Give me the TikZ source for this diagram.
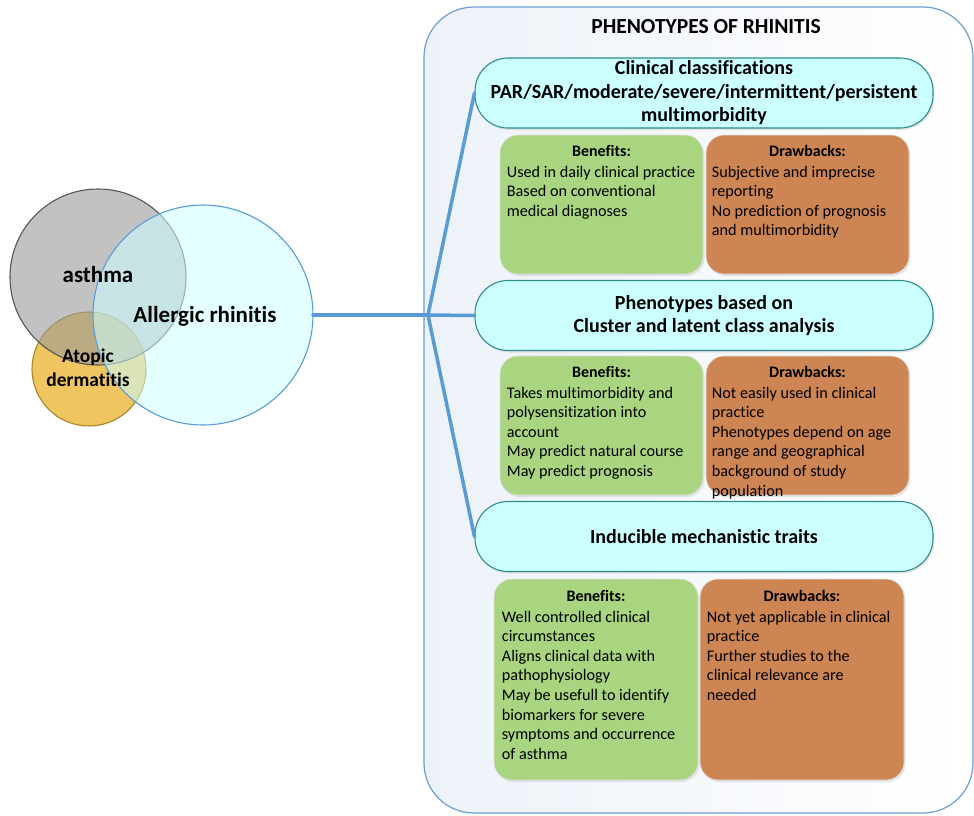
\documentclass[tikz,border=0pt]{standalone}
\usepackage{fontspec}
\setmainfont{Carlito}[Ligatures={NoCommon,NoContextual,NoRare},RawFeature={-liga;-clig;-calt;-dlig}]
\usetikzlibrary{shadows,calc}
\definecolor{conn}{HTML}{5B9BD5}
\definecolor{panelborder}{HTML}{6A9FD4}
\definecolor{panelfill}{HTML}{EDF2F9}
\definecolor{pillfill}{HTML}{CCFFFF}
\definecolor{pillborder}{HTML}{2E8C8C}
\definecolor{benfill}{HTML}{A9D580}
\definecolor{drawfill}{HTML}{CD8553}
\definecolor{asthmafill}{HTML}{9A9A9A}
\definecolor{asthmaborder}{HTML}{555555}
\definecolor{atopfill}{HTML}{EEC55E}
\definecolor{atopborder}{HTML}{A8852A}
\definecolor{arfill}{HTML}{CCFFFF}
\tikzset{
  panelbox/.style={rectangle, rounded corners=50, draw=panelborder, line width=1.2pt,
    left color=panelfill, right color=white, inner sep=0, outer sep=0},
  pill/.style={rectangle, rounded corners=33, draw=pillborder, line width=1.1pt, fill=pillfill,
    minimum width=458, minimum height=70, align=center, inner sep=0,
    font=\bfseries\fontsize{20}{23.5}\selectfont,
    drop shadow={opacity=0.18, shadow xshift=1.5pt, shadow yshift=-2pt}},
  benbox/.style={rectangle, rounded corners=18, fill=benfill, draw=black!12, line width=0.6pt,
    drop shadow={opacity=0.18, shadow xshift=1.5pt, shadow yshift=-2pt}},
  drawbox/.style={rectangle, rounded corners=18, fill=drawfill, draw=black!12, line width=0.6pt,
    drop shadow={opacity=0.18, shadow xshift=1.5pt, shadow yshift=-2pt}},
  boxhead/.style={font=\bfseries\fontsize{16}{19.6}\selectfont, anchor=base, inner sep=0},
  boxbody/.style={font=\fontsize{16.2}{19.6}\selectfont, align=left, anchor=north west, inner sep=0},
  conline/.style={draw=conn, line width=3.5pt, line cap=round, line join=round},
  venn/.style={circle, inner sep=0, outer sep=0, line width=1.1pt},
  vennlabel/.style={font=\bfseries, align=center, inner sep=0}
}
\begin{document}
\begin{tikzpicture}[x=1pt,y=-1pt]
\useasboundingbox (0,0) rectangle (974,815);

% panel
\node[panelbox, minimum width=549, minimum height=806] (panel) at (698.5,410) {};
\node[font=\bfseries\fontsize{21.5}{24}\selectfont, inner sep=0] (title) at (706,27) {PHENOTYPES OF RHINITIS};

% Venn diagram
\node[venn, minimum size=114, fill=atopfill, draw=atopborder] (atop) at (89,369) {};
\node[venn, minimum size=176, fill=asthmafill, fill opacity=0.6, draw=asthmaborder] (asthma) at (98,277) {};
\node[venn, minimum size=220, fill=arfill, fill opacity=0.55, draw=conn] (ar) at (203,315) {};
\node[vennlabel, font=\bfseries\fontsize{23}{26}\selectfont] (asthmalbl) at (98,275) {asthma};
\node[vennlabel, font=\bfseries\fontsize{23}{26}\selectfont] (arlbl) at (205,316) {Allergic rhinitis};
\node[vennlabel, font=\bfseries\fontsize{19.5}{24}\selectfont] (atoplbl) at (88,368) {Atopic\\dermatitis};

% headers
\node[pill] (h1) at (704,93) {Clinical classifications\\PAR/SAR/moderate/severe/intermittent/persistent\\multimorbidity};
\node[pill] (h2) at (704,315.5) {Phenotypes based on\\Cluster and latent class analysis};
\node[pill] (h3) at (704,536.5) {Inducible mechanistic traits};

% connectors
\coordinate (j) at (428,315);
\draw[conline] (ar.east) -- (j);
\draw[conline] (j) -- (h1.west);
\draw[conline] (j) -- (h2.west);
\draw[conline] (j) -- (h3.west);

% row 1
\node[benbox, minimum width=203, minimum height=139] (b1) at (601.5,204.5) {};
\node[drawbox, minimum width=203, minimum height=139] (d1) at (807.5,204.5) {};
\node[boxhead] (b1h) at ($(b1.north)+(0,22)$) {Benefits:};
\node[boxhead] (d1h) at ($(d1.north)+(0,22)$) {Drawbacks:};
\node[boxbody] (b1t) at ($(b1.north west)+(7,31)$) {Used in daily clinical practice\\Based on conventional\\medical diagnoses};
\node[boxbody] (d1t) at ($(d1.north west)+(6,31)$) {Subjective and imprecise\\reporting\\No prediction of prognosis\\and multimorbidity};

% row 2
\node[benbox, minimum width=203, minimum height=139] (b2) at (601.5,425.5) {};
\node[drawbox, minimum width=203, minimum height=139] (d2) at (807.5,425.5) {};
\node[boxhead] (b2h) at ($(b2.north)+(0,22)$) {Benefits:};
\node[boxhead] (d2h) at ($(d2.north)+(0,22)$) {Drawbacks:};
\node[boxbody] (b2t) at ($(b2.north west)+(7,31)$) {Takes multimorbidity and\\polysensitization into\\account\\May predict natural course\\May predict prognosis};
\node[boxbody] (d2t) at ($(d2.north west)+(6,31)$) {Not easily used in clinical\\practice\\Phenotypes depend on age\\range and geographical\\background of study\\population};

% row 3
\node[benbox, minimum width=204, minimum height=201] (b3) at (596,679.5) {};
\node[drawbox, minimum width=204, minimum height=201] (d3) at (802,679.5) {};
\node[boxhead] (b3h) at ($(b3.north)+(0,23)$) {Benefits:};
\node[boxhead] (d3h) at ($(d3.north)+(0,23)$) {Drawbacks:};
\node[boxbody] (b3t) at ($(b3.north west)+(8,32)$) {Well controlled clinical\\circumstances\\Aligns clinical data with\\pathophysiology\\May be usefull to identify\\biomarkers for severe\\symptoms and occurrence\\of asthma};
\node[boxbody] (d3t) at ($(d3.north west)+(7,32)$) {Not yet applicable in clinical\\practice\\Further studies to the\\clinical relevance are\\needed};
\end{tikzpicture}
\end{document}
